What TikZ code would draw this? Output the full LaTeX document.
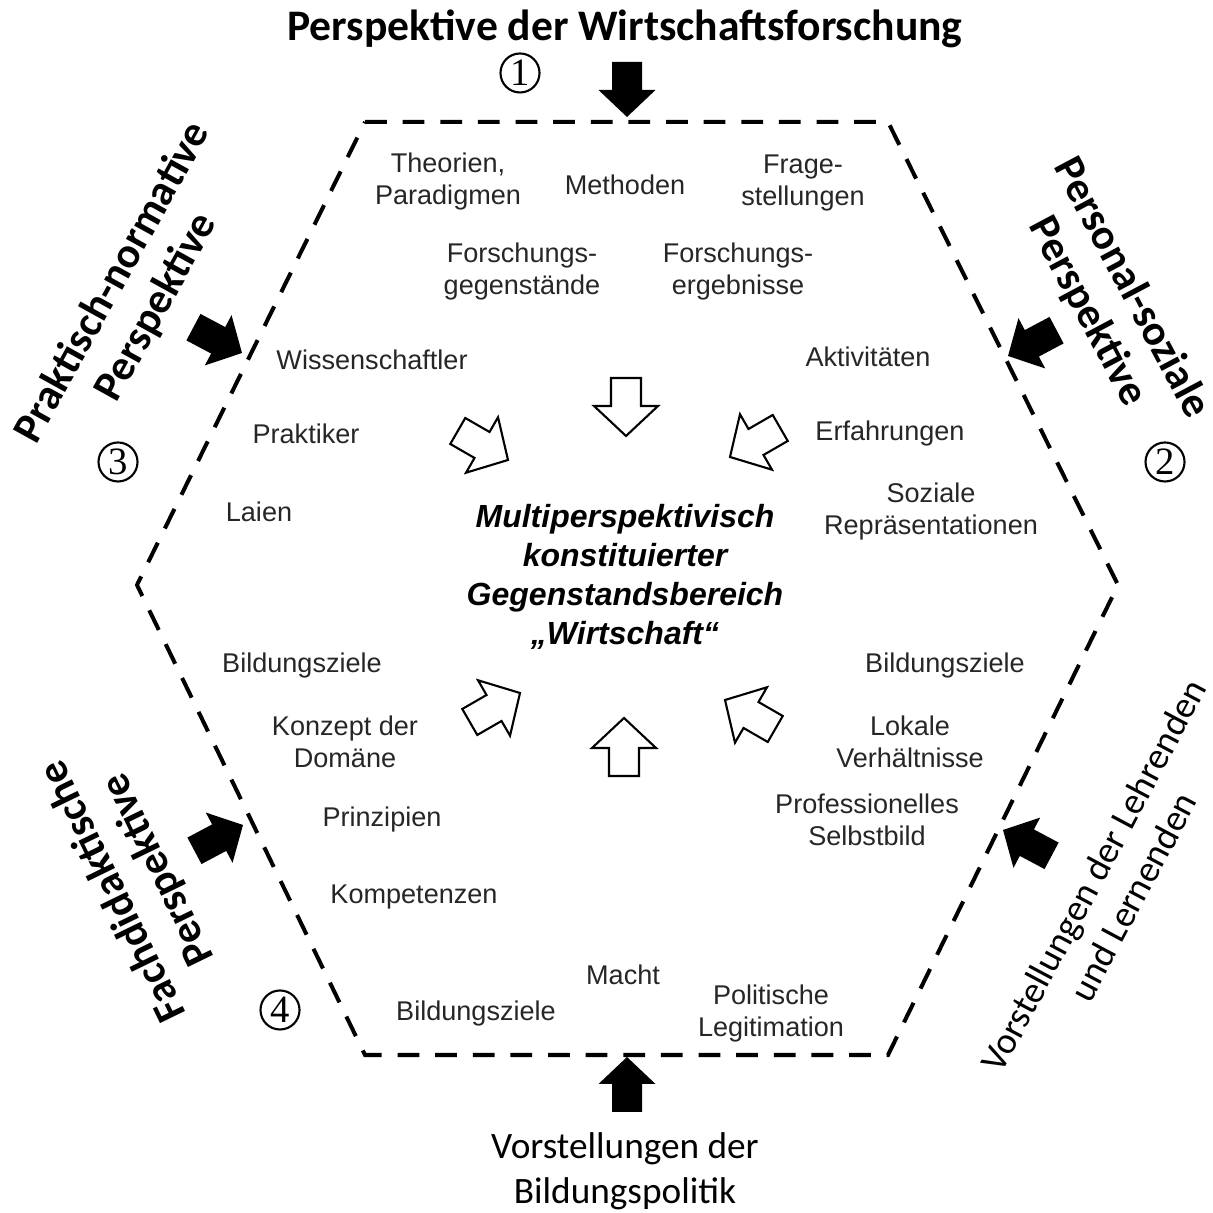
\documentclass[tikz,border=0pt]{standalone}
\usepackage{fontspec}
\setmainfont{Liberation Sans}
\newfontfamily\calibri{Carlito}
\newfontfamily\serifnum{Liberation Serif}

\begin{document}
\begin{tikzpicture}[
  x=0.01cm, y=0.01cm,
  item/.style={font=\fontsize{7.7}{9.1}\selectfont, text=black!85, align=center, inner sep=0pt},
  core/.style={font=\fontsize{9.1}{11.1}\selectfont\bfseries\itshape, align=center, inner sep=0pt},
  persp/.style={font=\calibri\bfseries\fontsize{12.2}{14.2}\selectfont, align=center, inner sep=0pt},
  vorst/.style={font=\calibri\fontsize{10.6}{12.8}\selectfont, align=center, inner sep=0pt},
  numcirc/.style={circle, draw, line width=0.6pt, minimum size=0.39cm, inner sep=0pt,
                  font=\serifnum\fontsize{11}{11}\selectfont},
  hexline/.style={line width=1.14pt, dash pattern=on 6.2pt off 4.5pt},
  blackarrow/.pic={\fill (0,0) -- (-27,28.5) -- (-27,15) -- (-55,15) -- (-55,-15) -- (-27,-15) -- (-27,-28.5) -- cycle;},
  whitearrow/.pic={\draw[line width=0.6pt, fill=white] (0,0) -- (-30,32) -- (-30,15) -- (-58,15) -- (-58,-15) -- (-30,-15) -- (-30,-32) -- cycle;},
]
\useasboundingbox (0,0) rectangle (1213,1213);

% hexagon
\draw[hexline] (365,1091) -- (888,1091) -- (1118,628) -- (888,158) -- (365,158) -- (137,628) -- cycle;

% perspectives outside
\node[persp, font=\calibri\bfseries\fontsize{12.4}{14.2}\selectfont] (forschung) at (625,1184) {Perspektive der Wirtschaftsforschung};
\node[persp, rotate=61]  (praktisch) at (135,918) {Praktisch-normative\\Perspektive};
\node[persp, rotate=-62] (personal)  at (1109,913) {Personal-soziale\\Perspektive};
\node[persp, rotate=116] (fachdid)   at (136,333) {Fachdidaktische\\Perspektive};
\node[vorst, rotate=62]  (lehrende)  at (1113,327) {Vorstellungen der Lehrenden\\und Lernenden};
\node[vorst] (bildpol) at (625,42) {Vorstellungen der\\Bildungspolitik};

\node[numcirc] (n1) at (520,1140) {1};
\node[numcirc] (n2) at (1165,751) {2};
\node[numcirc] (n3) at (118,751) {3};
\node[numcirc] (n4) at (280,203) {4};

% black arrows onto the hexagon
\pic[rotate=-90]  (pfeilO)  at (627,1096) {blackarrow};
\pic[rotate=90]   (pfeilU)  at (627,156)  {blackarrow};
\pic[rotate=-28]  (pfeilLO) at (242,860)  {blackarrow};
\pic[rotate=-152] (pfeilRO) at (1008,857) {blackarrow};
\pic[rotate=28]   (pfeilLU) at (243,388)  {blackarrow};
\pic[rotate=152]  (pfeilRU) at (1003,383) {blackarrow};

% inner items
\node[item] (theorien) at (448,1031) {Theorien,\\Paradigmen};
\node[item] (methoden) at (625,1028) {Methoden};
\node[item] (frage)    at (803,1030) {Frage-\\stellungen};
\node[item] (fgegen)   at (522,941)  {Forschungs-\\gegenstände};
\node[item] (fergeb)   at (738,941)  {Forschungs-\\ergebnisse};

\node[item] (wiss)   at (372,853) {Wissenschaftler};
\node[item] (prakt)  at (306,779) {Praktiker};
\node[item] (laien)  at (259,701) {Laien};

\node[item] (aktiv)  at (868,856) {Aktivitäten};
\node[item] (erfahr) at (890,779) {Erfahrungen};
\node[item] (sozial) at (931,701) {Soziale\\Repräsentationen};

\node[item] (bildL)   at (302,547) {Bildungsziele};
\node[item] (konzept) at (345,471) {Konzept der\\Domäne};
\node[item] (prinz)   at (382,393) {Prinzipien};
\node[item] (kompet)  at (414,316) {Kompetenzen};

\node[item] (bildR) at (945,547) {Bildungsziele};
\node[item] (lokal) at (910,471) {Lokale\\Verhältnisse};
\node[item] (prof)  at (867,393) {Professionelles\\Selbstbild};

\node[item] (macht) at (623,238) {Macht};
\node[item] (bildB) at (476,199) {Bildungsziele};
\node[item] (polit) at (771,199) {Politische\\Legitimation};

% centre
\node[core] (wirtschaft) at (625,636) {Multiperspektivisch\\konstituierter\\Gegenstandsbereich\\„Wirtschaft“};

% white arrows towards the centre
\pic[rotate=-90]  (innenO)  at (626,777) {whitearrow};
\pic[rotate=90]   (innenU)  at (624,495) {whitearrow};
\pic[rotate=-30]  (innenLO) at (508,753) {whitearrow};
\pic[rotate=-150] (innenRO) at (730,756) {whitearrow};
\pic[rotate=30]   (innenLU) at (520,520) {whitearrow};
\pic[rotate=150]  (innenRU) at (725,513) {whitearrow};

\end{tikzpicture}
\end{document}
